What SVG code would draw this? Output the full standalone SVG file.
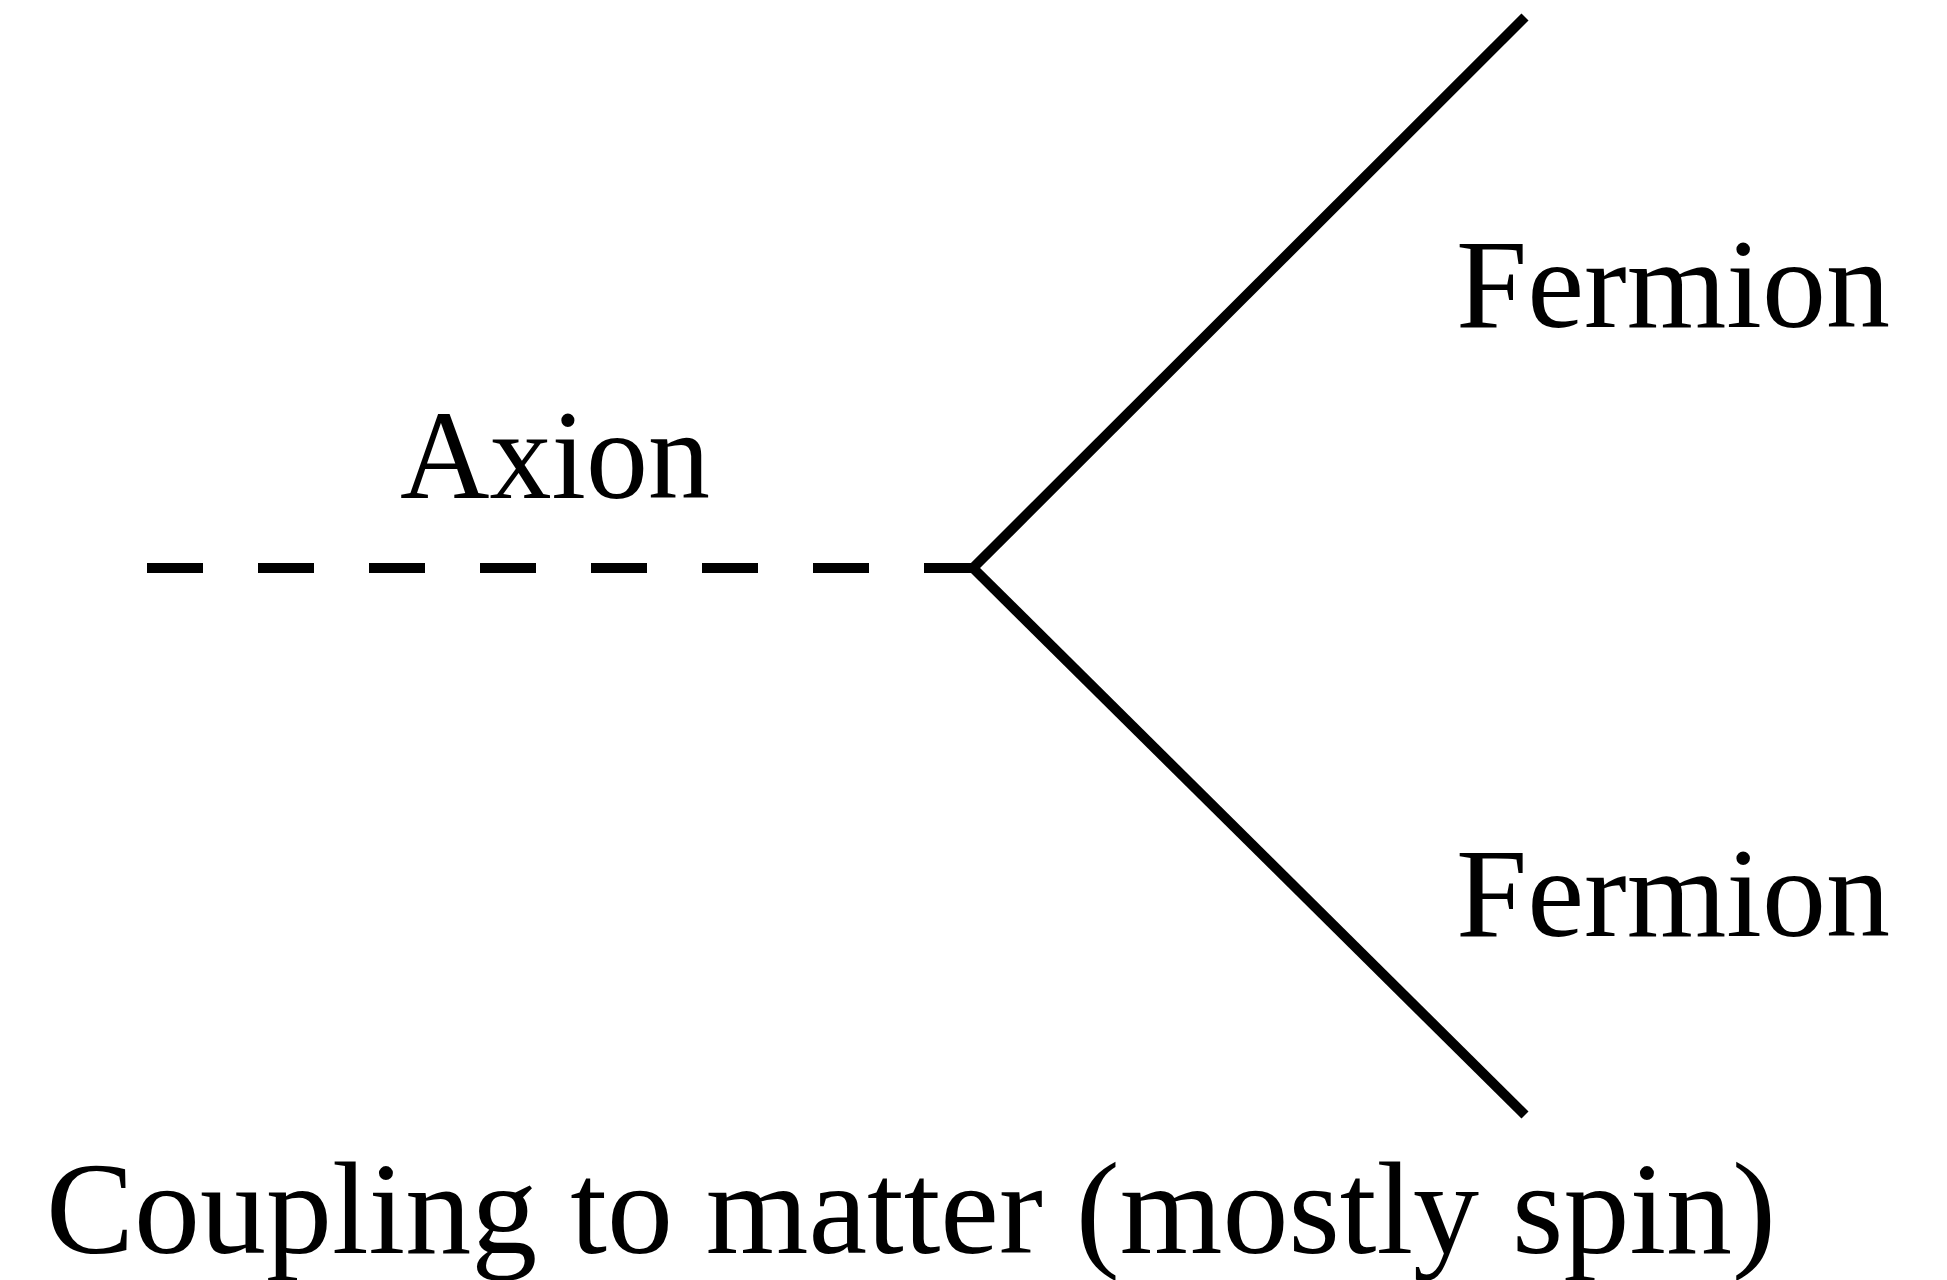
<svg xmlns="http://www.w3.org/2000/svg" width="1947" height="1280" viewBox="0 0 1947 1280">
<style>
.lbl{font-family:"Liberation Serif","Times New Roman",serif;fill:#000}
.ln{stroke:#000;stroke-width:10;fill:none}
</style>
<rect width="1947" height="1280" fill="#fff"/>
<g id="connectors">
<line class="ln" x1="147" y1="568" x2="973" y2="568" stroke-dasharray="56 55"/>
<line class="ln" x1="973" y1="568" x2="1525" y2="17"/>
<line class="ln" x1="973" y1="568" x2="1525" y2="1115"/>
</g>
<g id="axion"><text class="lbl" x="400" y="498" font-size="128" textLength="310" lengthAdjust="spacingAndGlyphs">Axion</text></g>
<g id="fermion-top"><text class="lbl" x="1456" y="327" font-size="128" textLength="434" lengthAdjust="spacingAndGlyphs">Fermion</text></g>
<g id="fermion-bottom"><text class="lbl" x="1456" y="936" font-size="128" textLength="434" lengthAdjust="spacingAndGlyphs">Fermion</text></g>
<g id="caption"><text class="lbl" x="46" y="1253" font-size="132" textLength="1730" lengthAdjust="spacingAndGlyphs">Coupling to matter (mostly spin)</text></g>
</svg>
